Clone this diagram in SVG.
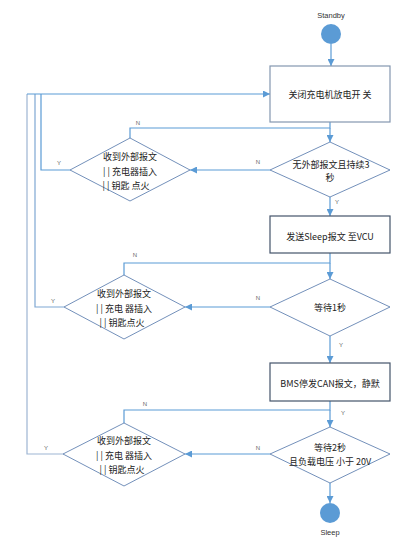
<svg xmlns="http://www.w3.org/2000/svg" width="400" height="546" viewBox="0 0 400 546">
<defs>
<marker id="arr" viewBox="0 0 10 10" refX="10" refY="5" markerWidth="7" markerHeight="7" markerUnits="userSpaceOnUse" orient="auto">
<path d="M0,0 L10,5 L0,10 z" fill="#5B9BD5"/>
</marker>
<style>
.t{font-family:"Noto Sans CJK SC","Microsoft YaHei",sans-serif;font-size:9px;fill:#222;text-anchor:middle;dominant-baseline:central}
.l{font-family:"Liberation Sans",sans-serif;font-size:6px;fill:#666;text-anchor:middle;dominant-baseline:central}
.c{fill:none;stroke:#5B9BD5;stroke-width:1.2}
.box{fill:#fff;stroke:#44546A;stroke-width:1.2}
.dia{fill:#fff;stroke:#4F74A8;stroke-width:0.8}
.circ{fill:#5B9BD5;stroke:none}
</style>
</defs>
<rect width="400" height="546" fill="#fff"/>
<g id="connectors">
<path class="c" d="M331,44 V66" marker-end="url(#arr)"/>
<path class="c" d="M330,122 V128 H130 V138"/>
<path class="c" d="M330,128 V142" marker-end="url(#arr)"/>
<path class="c" d="M270,170 H190" marker-end="url(#arr)"/>
<path class="c" d="M70,170 H41 V94"/>
<path class="c" d="M330,197 V216" marker-end="url(#arr)"/>
<path class="c" d="M330,253 V263 H124 V275"/>
<path class="c" d="M330,263 V279" marker-end="url(#arr)"/>
<path class="c" d="M270,307 H185" marker-end="url(#arr)"/>
<path class="c" d="M64,307 H35 V94" style="stroke:#7FA7D3"/>
<path class="c" d="M330,336 V363" marker-end="url(#arr)"/>
<path class="c" d="M330,401 V410 H124 V423"/>
<path class="c" d="M330,410 V427" marker-end="url(#arr)"/>
<path class="c" d="M270,454 H185" marker-end="url(#arr)"/>
<path class="c" d="M63,454 H27 V94" style="stroke:#9DB5D3"/>
<path class="c" d="M27,94 H270" marker-end="url(#arr)"/>
<path class="c" d="M330,483 V503" marker-end="url(#arr)"/>
<text class="l" x="138" y="123">N</text>
<text class="l" x="258" y="162">N</text>
<text class="l" x="59" y="163">Y</text>
<text class="l" x="337" y="202">Y</text>
<text class="l" x="135" y="255">N</text>
<text class="l" x="258" y="298">N</text>
<text class="l" x="53" y="301">Y</text>
<text class="l" x="341" y="345">Y</text>
<text class="l" x="145" y="404">N</text>
<text class="l" x="343" y="413">Y</text>
<text class="l" x="258" y="448">N</text>
<text class="l" x="46" y="448">Y</text>
</g>
<g id="standby">
<text class="l" x="331" y="15" style="font-size:7.5px;fill:#333">Standby</text>
<circle class="circ" cx="331" cy="34" r="10"/>
</g>
<g id="box1">
<rect class="box" x="270" y="66" width="120" height="56" style="stroke:#8497B0"/>
<text class="t" x="330" y="94">关闭充电机放电开 关</text>
</g>
<g id="dia1">
<polygon class="dia" points="330,142 390,170 330,197 270,170"/>
<text class="t" x="331" y="164">无外部报文且持续3</text>
<text class="t" x="330" y="177">秒</text>
</g>
<g id="left1">
<polygon class="dia" points="130,138 190,170 130,201 70,170"/>
<text class="t" x="130" y="156">收到外部报文</text>
<text class="t" x="130" y="171">| | 充电器插入</text>
<text class="t" x="126" y="185">| | 钥匙 点火</text>
</g>
<g id="box2">
<rect class="box" x="270" y="216" width="120" height="37"/>
<text class="t" x="330" y="236">发送Sleep报文 至VCU</text>
</g>
<g id="dia2">
<polygon class="dia" points="330,279 390,307 330,336 270,307"/>
<text class="t" x="330" y="307">等待1秒</text>
</g>
<g id="left2">
<polygon class="dia" points="124,275 185,307 124,339 64,307"/>
<text class="t" x="124" y="293">收到外部报文</text>
<text class="t" x="124" y="308">| | 充电 器插入</text>
<text class="t" x="122" y="322">| | 钥匙点火</text>
</g>
<g id="box3">
<rect class="box" x="270" y="363" width="120" height="38"/>
<text class="t" x="330" y="383">BMS停发CAN报文，静默</text>
</g>
<g id="dia3">
<polygon class="dia" points="330,427 390,454 330,483 270,454"/>
<text class="t" x="330" y="447">等待2秒</text>
<text class="t" x="330" y="461">且负载电压 小于 20V</text>
</g>
<g id="left3">
<polygon class="dia" points="124,423 185,454 124,486 63,454"/>
<text class="t" x="124" y="440">收到外部报文</text>
<text class="t" x="124" y="455">| | 充电 器插入</text>
<text class="t" x="122" y="469">| | 钥匙点火</text>
</g>
<g id="sleep">
<circle class="circ" cx="330" cy="513" r="10"/>
<text class="l" x="330" y="532" style="font-size:7.5px;fill:#333">Sleep</text>
</g>
</svg>
